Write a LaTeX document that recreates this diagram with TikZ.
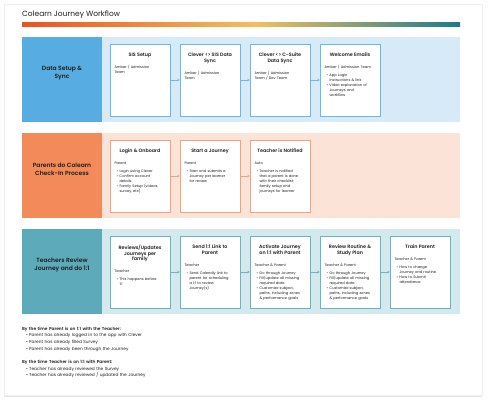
\documentclass[tikz,border=0pt]{standalone}
\usepackage{fontspec}
\setmainfont{Poppins}[BoldFont={Poppins SemiBold}]
\usepackage{tikz}
\usetikzlibrary{positioning,arrows.meta,shadows,calc}
\usepackage{xcolor}

\definecolor{ink}{HTML}{1F1F1F}
\definecolor{blueLab}{HTML}{57ADE1}
\definecolor{bluePan}{HTML}{D6EAF8}
\definecolor{blueLine}{HTML}{6CB8E9}
\definecolor{orLab}{HTML}{F38A5A}
\definecolor{orPan}{HTML}{FCE3D7}
\definecolor{orLine}{HTML}{F2A27F}
\definecolor{tlLab}{HTML}{5DAABA}
\definecolor{tlPan}{HTML}{D4E9ED}
\definecolor{tlLine}{HTML}{6BB4C3}
\definecolor{barRed}{HTML}{E9531F}
\definecolor{barYel}{HTML}{F2BF5E}
\definecolor{barTeal}{HTML}{1C7B8C}

\newcommand{\itm}[2][5pt]{\par{\leftskip=#1\noindent\llap{\textbullet\hspace{1.3pt}}#2\par}}
\newcommand{\role}[1]{#1\par\vspace{3pt}}

\begin{document}
\begin{tikzpicture}[x=1pt, y=-1pt,
    lab/.style={minimum width=80pt, minimum height=85pt, inner sep=0pt, outer sep=0pt},
    labtxt/.style={align=center, inner sep=0pt, font=\fontsize{6}{8}\selectfont\bfseries, text=ink},
    pan/.style={minimum width=358pt, minimum height=85pt, inner sep=0pt, outer sep=0pt, anchor=west},
    card/.style={draw, fill=white, line width=0.8pt, minimum width=60pt, minimum height=72pt, inner sep=0pt},
    cardtxt/.style={anchor=north, text width=51pt, inner sep=0pt, align=left, font=\fontsize{3.6}{5}\selectfont, text=ink},
    arrow/.style={->, >={Stealth[length=2.2pt, width=2.6pt]}, line width=0.6pt}
]
    \useasboundingbox (0,0) rectangle (488,406);

    % Page
    \draw[fill=white, draw=black!6, drop shadow={shadow xshift=0pt, shadow yshift=-2pt, opacity=0.2}] (4,4) rectangle (482,395);

    % Title and bar
    \node[anchor=west, inner sep=0pt, font=\fontsize{7.5}{9}\selectfont, text=ink] (title) at (22,14.5) {Colearn Journey Workflow};
    \shade[left color=barRed, right color=barYel] (22,22.5) rectangle (256,26.5);
    \shade[left color=barYel, right color=barTeal] (255.5,22.5) rectangle (460,26.5);

    % Sections
    \foreach \s/\yt/\clab/\cpan/\txt in {1/37/blueLab/bluePan/{Data Setup \&\\Sync},
        2/133/orLab/orPan/{Parents do Colearn\\Check-In Process},
        3/229/tlLab/tlPan/{Teachers Review\\Journey and do 1:1}} {
        \node[lab, fill=\clab] (lab\s) at (62,\yt+42.5) {};
        \node[pan, fill=\cpan] (pan\s) at (lab\s.east) {};
        \node[labtxt] (labt\s) at ([yshift=6.5pt]lab\s.center) {\txt};
    }

    % Row 1
    \foreach \i/\ttl/\txt in {
        1/{SIS Setup}/{Amber / Admission\\Team},
        2/{Clever <> SIS Data\\Sync}/{Amber / Admission\\Team},
        3/{Clever <> C-Suite\\Data Sync}/{Amber / Admission\\Team / Dev Team},
        4/{Welcome Emails}/{\role{Amber / Admission Team}\itm{App Login\\Instructions \& link}\itm{Video explanation of\\Journeys and\\workflow}}} {
        \node[card, draw=blueLine] (a\i) at (70+70*\i,80) {};
        \node[cardtxt] (ta\i) at ([yshift=-9pt]a\i.north) {{\centering\fontsize{4.8}{5.7}\selectfont\bfseries\ttl\par}\vspace{7pt}\txt};
    }
    \foreach \i/\j in {1/2,2/3,3/4} {
        \draw[arrow, blueLine] (a\i) -- (a\j);
    }

    % Row 2
    \foreach \i/\ttl/\txt in {
        1/{Login \& Onboard}/{\role{Parent}\itm{Login using Clever}\itm{Confirm account\\details}\itm{Family Setup (videos,\\survey, etc)}},
        2/{Start a Journey}/{\role{Parent}\itm{Start and submits a\\Journey per learner\\for review}},
        3/{Teacher is Notified}/{\role{Auto}\itm{Teacher is notified\\that a parent is done\\with their checklist:\\family setup and\\journeys for learner}}} {
        \node[card, draw=orLine] (b\i) at (70+70*\i,176) {};
        \node[cardtxt] (tb\i) at ([yshift=-9pt]b\i.north) {{\centering\fontsize{4.8}{5.7}\selectfont\bfseries\ttl\par}\vspace{7pt}\txt};
    }
    \foreach \i/\j in {1/2,2/3} {
        \draw[arrow, orLine] (b\i) -- (b\j);
    }

    % Row 3
    \foreach \i/\ttl/\txt in {
        1/{Reviews/Updates\\Journeys per\\family}/{\role{Teacher}\itm{This happens before\\1:1}},
        2/{Send 1:1 Link to\\Parent}/{\role{Teacher}\itm{Send Calendly link to\\parent for scheduling\\a 1:1 to review\\Journey(s)}},
        3/{Activate Journey\\on 1:1 with Parent}/{\role{Teacher \& Parent}\itm{Go through Journey}\itm{Fill/update all missing\\required data}\itm{Customize subject,\\paths, including zones\\\& performance goals}},
        4/{Review Routine \&\\Study Plan}/{\role{Teacher \& Parent}\itm{Go through Journey}\itm{Fill/update all missing\\required data}\itm{Customize subject,\\paths, including zones\\\& performance goals}},
        5/{Train Parent}/{\role{Teacher \& Parent}\itm{How to change\\Journey and routine}\itm{How to Submit\\attendance}}} {
        \node[card, draw=tlLine] (c\i) at (70+70*\i,272) {};
        \node[cardtxt] (tc\i) at ([yshift=-9pt]c\i.north) {{\centering\fontsize{4.8}{5.7}\selectfont\bfseries\ttl\par}\vspace{7pt}\txt};
    }
    \foreach \i/\j in {1/2,2/3,3/4,4/5} {
        \draw[arrow, tlLine] (c\i) -- (c\j);
    }

    % Notes
    \node[anchor=north west, inner sep=0pt, text width=250pt, align=left, font=\fontsize{4.3}{6.7}\selectfont, text=ink] (notes) at (22,326.5) {\textbf{By the time Parent is on 1:1 with the Teacher:}\itm[7pt]{Parent has already logged in to the app with Clever}\itm[7pt]{Parent has already filled Survey}\itm[7pt]{Parent has already been through the Journey}\par\vspace{6.7pt}\textbf{By the time Teacher is on 1:1 with Parent:}\itm[7pt]{Teacher has already reviewed the Survey}\itm[7pt]{Teacher has already reviewed / updated the Journey}};
\end{tikzpicture}
\end{document}
